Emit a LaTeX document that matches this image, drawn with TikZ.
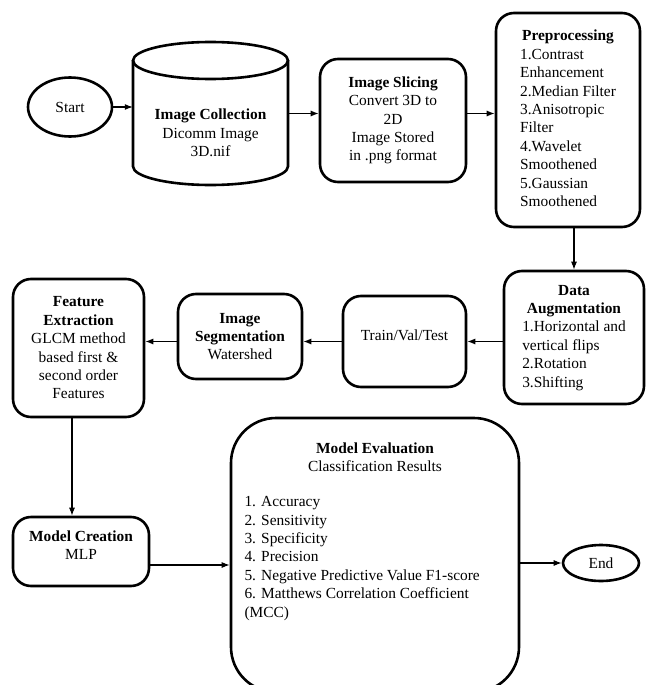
\documentclass[tikz,border=0pt]{standalone}
\usepackage{fontspec}
\setmainfont{Liberation Serif}
\usepackage{tikz}
\usetikzlibrary{arrows.meta, positioning, calc, shapes}
\tikzset{>={Latex[length=8pt,width=6pt]}}

\begin{document}
\begin{tikzpicture}[x=1pt, y=-1pt,
	every node/.style={font=\fontsize{15.4}{18.4}\selectfont},
	stage/.style={draw, line width=2.6pt, rounded corners=18pt, align=center, inner sep=0pt},
	terminal/.style={draw, ellipse, line width=2.6pt, inner sep=0pt},
	flow/.style={->, line width=1.1pt}]

	\useasboundingbox (0,0) rectangle (647,685);

	% top row
	\node [terminal, minimum width=84pt, minimum height=59pt] (start) at (70,107) {Start};
	\node [minimum width=155pt, minimum height=143pt, inner sep=0pt] (collect) at (210.5,113.5) {};
	% the drum drawn round the collect node
	\draw [line width=2.6pt] (210.5,60.5) ellipse [x radius=77.5pt, y radius=18.5pt];
	\draw [line width=2.6pt] (133,60.5) -- (133,166.5)
		arc [start angle=180, end angle=360, x radius=77.5pt, y radius=18.5pt] -- (288,60.5);
	\node [align=center] (collecttxt) at (210.5,133) {\textbf{Image Collection}\\Dicomm Image\\3D.nif};
	\node [stage, minimum width=146pt, minimum height=123pt] (slicing) at (393,120.5)
		{\textbf{Image Slicing}\\Convert 3D to\\2D\\Image Stored\\in .png format};
	\node [stage, minimum width=144pt, minimum height=214pt] (prep) at (568,120)
		{\begin{tabular}{@{}l@{}}
			\multicolumn{1}{@{}c@{}}{\textbf{Preprocessing}}\\
			1.Contrast\\ Enhancement\\ 2.Median Filter\\ 3.Anisotropic\\ Filter\\
			4.Wavelet\\ Smoothened\\ 5.Gaussian\\ Smoothened
		\end{tabular}};

	% middle row
	\node [stage, minimum width=140pt, minimum height=133pt] (aug) at (574,337.5)
		{\begin{tabular}{@{}l@{}}
			\multicolumn{1}{@{}c@{}}{\textbf{Data}}\\
			\multicolumn{1}{@{}c@{}}{\textbf{Augmentation}}\\
			1.Horizontal and\\ vertical flips\\ 2.Rotation\\ 3.Shifting
		\end{tabular}};
	\node [stage, minimum width=123pt, minimum height=91pt] (split) at (404.5,341.5)
		{Train/Val/Test\\[-6pt]\mbox{}};
	\node [stage, minimum width=124pt, minimum height=85pt] (seg) at (240,336.5)
		{\textbf{Image}\\\textbf{Segmentation}\\Watershed};
	\node [stage, minimum width=131pt, minimum height=138pt] (featex) at (78.5,348)
		{\textbf{Feature}\\\textbf{Extraction}\\GLCM method\\based first \&\\second order\\Features};

	% bottom row
	\node [stage, minimum width=136pt, minimum height=69pt] (mcreate) at (81,551.5)
		{\textbf{Model Creation}\\MLP\\[-6pt]\mbox{}};
	\node [stage, rounded corners=45pt, minimum width=288pt, minimum height=274pt] (eval) at (375,555) {};
	\node [align=center] (evalhead) at (375,457.5) {\textbf{Model Evaluation}\\Classification Results};
	\node [align=left, anchor=west] (evallist) at (241,558.5)
		{1. Accuracy\\2. Sensitivity\\3. Specificity\\4. Precision\\
		5. Negative Predictive Value F1-score\\6. Matthews Correlation Coefficient\\(MCC)};
	\node [terminal, minimum width=76pt, minimum height=36pt] (finish) at (601,563) {End};

	\draw [flow] (start.east) -- (start.east -| collect.west);
	\draw [flow] (collect.east) -- (collect.east -| slicing.west);
	\draw [flow] (slicing.east |- collect.east) -- (prep.west |- collect.east);
	\draw [flow] (prep.south -| aug.north) -- (aug.north);
	\draw [flow] (aug.west |- split.east) -- (split.east);
	\draw [flow] (split.west) -- (split.west -| seg.east);
	\draw [flow] (seg.west |- split.west) -- (featex.east |- split.west);
	\draw [flow] ([xshift=-6.5pt]featex.south) -- ([xshift=-6.5pt]featex.south |- mcreate.north);
	\draw [flow] ([yshift=-13.5pt]mcreate.east) -- ([yshift=-13.5pt]mcreate.east -| eval.west);
	\draw [flow] (eval.east |- finish.west) -- (finish.west);

\end{tikzpicture}
\end{document}
